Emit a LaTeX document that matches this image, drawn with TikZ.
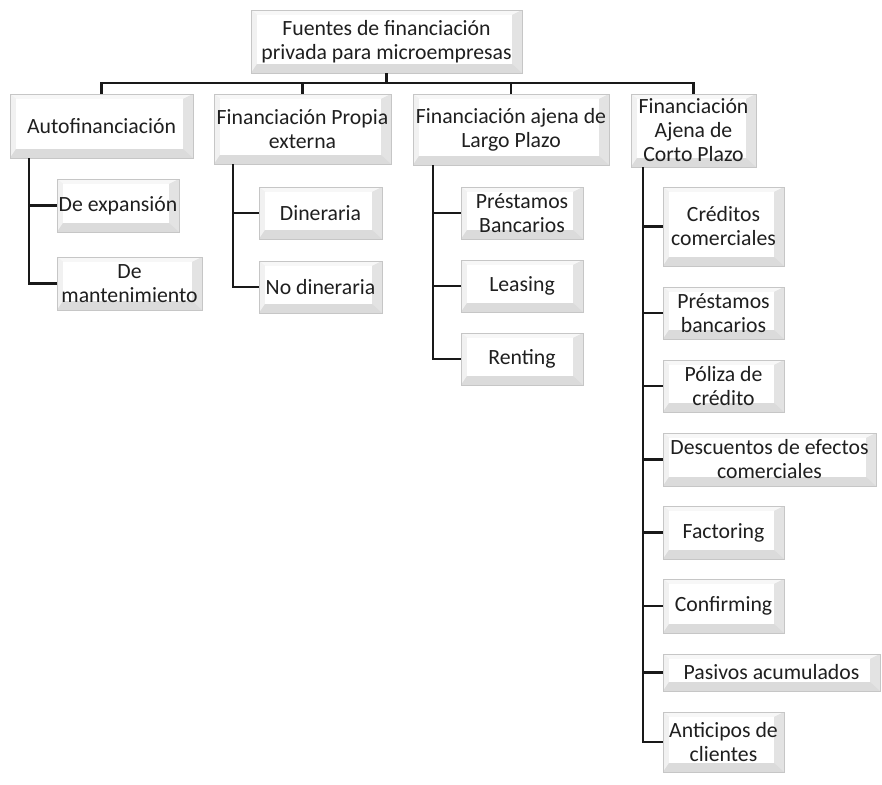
\documentclass[tikz,border=0pt]{standalone}
\usepackage{fontspec}
\setmainfont{Carlito}
\def\bvT{3.75pt}\def\bvL{4.5pt}\def\bvR{7.5pt}\def\bvB{6.75pt}
\tikzset{
  bevel/.style={rectangle, draw=gray!45, line width=0.6pt, fill=gray!20, align=center,
    inner sep=0pt, font=\fontsize{16.3}{18}\selectfont, text=black!88,
    path picture={
      \fill[gray!6] (path picture bounding box.north west) -- (path picture bounding box.north east)
        -- ([shift={(-\bvR,-\bvT)}]path picture bounding box.north east)
        -- ([shift={(\bvL,-\bvT)}]path picture bounding box.north west) -- cycle;
      \fill[gray!11] (path picture bounding box.north west)
        -- ([shift={(\bvL,-\bvT)}]path picture bounding box.north west)
        -- ([shift={(\bvL,\bvB)}]path picture bounding box.south west)
        -- (path picture bounding box.south west) -- cycle;
      \fill[gray!22] (path picture bounding box.north east)
        -- ([shift={(-\bvR,-\bvT)}]path picture bounding box.north east)
        -- ([shift={(-\bvR,\bvB)}]path picture bounding box.south east)
        -- (path picture bounding box.south east) -- cycle;
      \fill[gray!28] (path picture bounding box.south west)
        -- ([shift={(\bvL,\bvB)}]path picture bounding box.south west)
        -- ([shift={(-\bvR,\bvB)}]path picture bounding box.south east)
        -- (path picture bounding box.south east) -- cycle;
      \fill[white] ([shift={(\bvL,-\bvT)}]path picture bounding box.north west)
        rectangle ([shift={(-\bvR,\bvB)}]path picture bounding box.south east);
    }},
  bx/.style 2 args={bevel, minimum width=#1*0.75pt, minimum height=#2*0.75pt},
  link/.style={draw=black!90, line width=1.7pt}
}
\begin{document}
\begin{tikzpicture}[x=0.75pt, y=-0.75pt]
\useasboundingbox (0,0) rectangle (882,785);
% root
\node[bx={271}{63}] (root) at (386.5,41.5) {Fuentes de financiación\\privada para microempresas};
% level 1
\node[bx={183}{64}] (auto) at (101.5,126) {Autofinanciación};
\node[bx={177}{70}] (propia) at (302.5,129) {Financiación Propia\\externa};
\node[bx={196}{71}] (largo) at (511,129.5) {Financiación ajena de\\Largo Plazo};
\node[bx={125}{73}] (corto) at (693.5,130.5) {Financiación\\Ajena de\\Corto Plazo};
% Autofinanciación children
\node[bx={122}{53}] (exp) at (118,205.5) {De expansión};
\node[bx={145}{53}] (mant) at (129.5,283.5) {De\\mantenimiento};
% Propia children
\node[bx={123}{52}] (din) at (320.5,213) {Dineraria};
\node[bx={123}{52}] (nodin) at (320.5,287) {No dineraria};
% Largo children
\node[bx={122}{52}] (prest) at (522,213) {Préstamos\\Bancarios};
\node[bx={122}{52}] (leas) at (522,286) {Leasing};
\node[bx={122}{52}] (rent) at (522,359) {Renting};
% Corto children
\node[bx={121}{79}] (cred) at (723.5,226.5) {Créditos\\comerciales};
\node[bx={121}{52}] (pb) at (723.5,313) {Préstamos\\bancarios};
\node[bx={121}{52}] (pol) at (723.5,386) {Póliza de\\crédito};
\node[bx={213}{53}] (desc) at (769.5,459.5) {Descuentos de efectos\\comerciales};
\node[bx={121}{53}] (fact) at (723.5,532.5) {Factoring};
\node[bx={121}{54}] (conf) at (723.5,606) {Confirming};
\node[bx={217}{37}] (pas) at (771.5,672.5) {Pasivos acumulados};
\node[bx={121}{60}] (anti) at (723.5,742) {Anticipos de\\clientes};
% bus
\coordinate (bus) at (0,83);
\draw[link] (root.south) -- (root.south |- bus);
\draw[link] (auto.north) -- (auto.north |- bus) -| (corto.north);
\draw[link] (propia.north) -- (propia.north |- bus);
\draw[link] (largo.north) -- (largo.north |- bus);
% trunks
\coordinate (tA) at (29,0);
\coordinate (tP) at (233,0);
\coordinate (tL) at (433,0);
\coordinate (tC) at (643,0);
\draw[link] (auto.south -| tA) |- (exp.west);
\draw[link] (auto.south -| tA) |- (mant.west);
\draw[link] (propia.south -| tP) |- (din.west);
\draw[link] (propia.south -| tP) |- (nodin.west);
\draw[link] (largo.south -| tL) |- (prest.west);
\draw[link] (largo.south -| tL) |- (leas.west);
\draw[link] (largo.south -| tL) |- (rent.west);
\foreach \c in {cred,pb,pol,desc,fact,conf,pas,anti}
  \draw[link] (corto.south -| tC) |- (\c.west);
\end{tikzpicture}
\end{document}
